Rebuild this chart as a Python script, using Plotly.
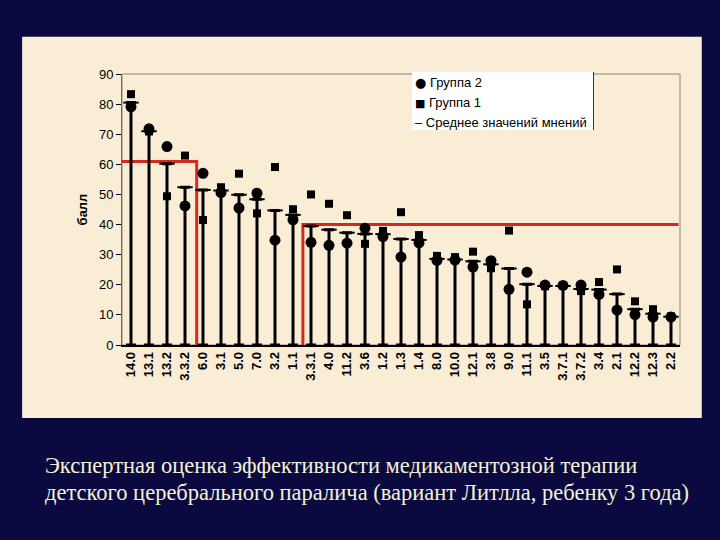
import plotly.graph_objects as go

categories = ["14.0", "13.1", "13.2", "3.3.2", "6.0", "3.1", "5.0", "7.0", "3.2", "1.1",
              "3.3.1", "4.0", "11.2", "3.6", "1.2", "1.3", "1.4", "8.0", "10.0", "12.1",
              "3.8", "9.0", "11.1", "3.5", "3.7.1", "3.7.2", "3.4", "2.1", "12.2", "12.3", "2.2"]
group2 = [79.1, 71.8, 65.9, 46.2, 57.0, 50.6, 45.5, 50.4, 34.8, 41.6,
          34.1, 33.1, 33.8, 38.8, 36.0, 29.2, 33.9, 28.1, 28.2, 25.9,
          28.0, 18.5, 24.2, 19.9, 19.8, 19.9, 16.8, 11.6, 10.1, 9.3, 9.3]
group1 = [83.3, 70.9, 49.4, 62.9, 41.5, 52.4, 56.9, 43.7, 59.1, 45.1,
          50.0, 46.9, 43.1, 33.6, 37.9, 44.1, 36.5, 29.6, 29.2, 31.0,
          25.5, 38.0, 13.5, 19.5, 19.8, 17.9, 20.9, 25.1, 14.5, 11.9, 9.5]
mean_vals = [80.5, 71.0, 60.2, 52.4, 51.5, 51.3, 49.9, 48.4, 44.7, 43.2,
             39.5, 38.3, 37.3, 36.9, 36.8, 35.2, 34.9, 28.6, 28.4, 27.8,
             26.8, 25.4, 20.2, 19.6, 19.6, 18.6, 18.4, 16.9, 11.9, 10.4, 9.4]
# red reference lines (group averages) and their split positions (category index units)
avg_levels = [60.9, 40.0]
avg_splits = [3.65, 9.55]

legend_labels = ["Группа 2", "Группа 1", "Среднее значений мнений"]
legend_glyphs = ["●", "■", "–"]
legend_glyph_sizes = [13, 11, 13]
legend_glyph_fonts = ["DejaVu Sans", "DejaVu Sans", "Liberation Sans"]

idx = list(range(len(categories)))
x_lo, x_hi = -0.5, len(categories) - 0.5

fig = go.Figure()

# red group-average step lines
fig.add_trace(go.Scatter(x=[x_lo, avg_splits[0], avg_splits[0]], y=[avg_levels[0], avg_levels[0], 0],
                         mode="lines", line=dict(color="#d42a1e", width=3), showlegend=False, hoverinfo="skip"))
fig.add_trace(go.Scatter(x=[avg_splits[1], avg_splits[1], x_hi - 0.08], y=[0, avg_levels[1], avg_levels[1]],
                         mode="lines", line=dict(color="#d42a1e", width=3), showlegend=False, hoverinfo="skip"))

# mean with drop stems
fig.add_trace(go.Scatter(
    x=idx, y=mean_vals, mode="markers", name=legend_labels[2], showlegend=False,
    marker=dict(symbol="line-ew", size=11, color="black", line=dict(color="black", width=2)),
    error_y=dict(type="data", symmetric=False, array=[0] * len(mean_vals), arrayminus=mean_vals,
                 color="black", thickness=3, width=5)))
fig.add_trace(go.Scatter(
    x=idx, y=group1, mode="markers", name=legend_labels[1], showlegend=False,
    marker=dict(symbol="square", size=8, color="black")))
fig.add_trace(go.Scatter(
    x=idx, y=group2, mode="markers", name=legend_labels[0], showlegend=False,
    marker=dict(symbol="circle", size=11, color="black")))

# beige panel behind the chart
fig.add_shape(type="rect", xref="paper", yref="paper", x0=-0.179, x1=1.039, y0=-0.269, y1=1.137,
              fillcolor="#f9eed5", line=dict(width=0), layer="below")
# plot frame
fig.add_shape(type="rect", xref="paper", yref="paper", x0=0, x1=1, y0=0, y1=1,
              fillcolor="rgba(0,0,0,0)", line=dict(color="#8a8478", width=1), layer="below")

# legend box (drawn manually, Excel style)
fig.add_shape(type="rect", xref="paper", yref="paper", x0=0.520, x1=0.845, y0=0.793, y1=1.007,
              fillcolor="white", line=dict(width=0), layer="above")
fig.add_shape(type="line", xref="paper", yref="paper", x0=0.845, x1=0.845, y0=0.793, y1=1.007,
              line=dict(color="#333333", width=1), layer="above")
for i, (g, gs, gf, lab) in enumerate(zip(legend_glyphs, legend_glyph_sizes, legend_glyph_fonts, legend_labels)):
    fig.add_annotation(xref="paper", yref="paper", x=0.522, y=0.970 - i * 0.074,
                       xanchor="left", yanchor="middle", showarrow=False,
                       text=f"<span style='font-size:{gs}px;font-family:{gf}'>{g}</span> {lab}",
                       font=dict(family="Liberation Sans, Arial, sans-serif", size=13, color="black"))

fig.update_layout(
    width=720, height=540,
    paper_bgcolor="#0a0a40", plot_bgcolor="#ecdfc1",
    margin=dict(l=122, r=40, t=74, b=195),
    font=dict(family="Liberation Sans, Arial, sans-serif", color="black"),
    showlegend=False,
    xaxis=dict(range=[x_lo, x_hi], tickmode="array", tickvals=idx, ticktext=categories,
               tickangle=-90, tickfont=dict(size=13, family="Liberation Sans, Arial", color="black", weight=700),
               showgrid=False, zeroline=False, showline=True, linecolor="black", linewidth=1.5,
               ticks="", fixedrange=True),
    yaxis=dict(range=[0, 90], dtick=10, tickfont=dict(size=13, color="black"),
               ticks="outside", ticklen=5, tickcolor="black",
               showgrid=False, zeroline=False, showline=True, linecolor="#6b6b6b", linewidth=1,
               title=dict(text="<b>балл</b>", font=dict(size=13, color="black"), standoff=8)),
)

cap_font = dict(family="Liberation Serif, Times New Roman, serif", size=22.5, color="#f6f1d6")
fig.add_annotation(xref="paper", yref="paper", x=-0.141, y=-0.445, xanchor="left", yanchor="middle",
                   text="Экспертная оценка эффективности медикаментозной терапии",
                   showarrow=False, font=cap_font)
fig.add_annotation(xref="paper", yref="paper", x=-0.141, y=-0.545, xanchor="left", yanchor="middle",
                   text="детского церебрального паралича (вариант Литлла, ребенку 3 года)",
                   showarrow=False, font=cap_font)

fig.write_html("out.html", config={"displayModeBar": False},
               post_script="document.body.style.margin='0';document.body.style.padding='0';")
